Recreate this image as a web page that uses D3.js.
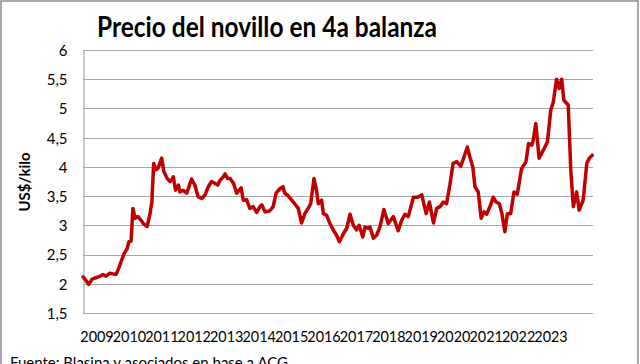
<!DOCTYPE html>
<html>
<head>
<meta charset="utf-8">
<script src="https://cdn.jsdelivr.net/npm/d3@7"></script>
<style>
  body { margin: 0; background: #fff; }
  text { font-family: Lato, "Open Sans", sans-serif; fill: #000; }
</style>
</head>
<body>
<svg id="chart" width="640" height="364"></svg>
<script>
// data (decimal year, US$/kilo)
const anios = [
  2009.00, 2009.08, 2009.16, 2009.25, 2009.38, 2009.47, 2009.55, 2009.63, 2009.74, 2009.82,
  2009.91, 2009.99, 2010.07, 2010.13, 2010.21, 2010.26, 2010.32, 2010.37, 2010.43, 2010.51,
  2010.59, 2010.67, 2010.76, 2010.84, 2010.89, 2010.94, 2011.00, 2011.06, 2011.16, 2011.22,
  2011.31, 2011.39, 2011.44, 2011.48, 2011.54, 2011.62, 2011.66, 2011.75, 2011.85, 2011.94,
  2011.98, 2012.07, 2012.16, 2012.26, 2012.35, 2012.44, 2012.53, 2012.62, 2012.70, 2012.76,
  2012.85, 2012.90, 2012.97, 2013.04, 2013.13, 2013.22, 2013.34, 2013.40, 2013.49, 2013.58,
  2013.67, 2013.77, 2013.86, 2013.91, 2014.00, 2014.13, 2014.22, 2014.30, 2014.41, 2014.49,
  2014.54, 2014.64, 2014.77, 2014.91, 2015.00, 2015.09, 2015.18, 2015.25, 2015.34, 2015.41,
  2015.46, 2015.55, 2015.60, 2015.69, 2015.78, 2015.87, 2015.96, 2016.04, 2016.15, 2016.24,
  2016.33, 2016.42, 2016.51, 2016.58, 2016.68, 2016.74, 2016.83, 2016.88, 2016.97, 2017.06,
  2017.15, 2017.26, 2017.38, 2017.52, 2017.65, 2017.75, 2017.84, 2017.93, 2018.07, 2018.18,
  2018.30, 2018.42, 2018.51, 2018.62, 2018.71, 2018.80, 2018.89, 2018.98, 2019.07, 2019.16,
  2019.26, 2019.37, 2019.46, 2019.55, 2019.62, 2019.70, 2019.76, 2019.85, 2019.93, 2020.01,
  2020.08, 2020.19, 2020.26, 2020.34, 2020.43, 2020.50, 2020.58, 2020.65, 2020.74, 2020.83,
  2020.92, 2021.04, 2021.16, 2021.23, 2021.32, 2021.36, 2021.43, 2021.52, 2021.64, 2021.75,
  2021.84, 2021.91, 2022.00, 2022.07, 2022.14, 2022.20, 2022.32, 2022.39, 2022.46, 2022.55,
  2022.62, 2022.73, 2022.83, 2022.90, 2022.98
];
const precios = [
  2.12, 2.06, 1.99, 2.08, 2.11, 2.13, 2.16, 2.13, 2.18, 2.17,
  2.16, 2.28, 2.42, 2.52, 2.60, 2.72, 2.73, 3.29, 3.12, 3.15,
  3.09, 3.02, 2.98, 3.20, 3.40, 4.06, 3.95, 3.98, 4.15, 3.92,
  3.80, 3.75, 3.78, 3.83, 3.60, 3.69, 3.57, 3.60, 3.55, 3.72,
  3.79, 3.69, 3.49, 3.46, 3.52, 3.66, 3.75, 3.72, 3.69, 3.77,
  3.83, 3.88, 3.80, 3.80, 3.72, 3.55, 3.64, 3.43, 3.44, 3.29,
  3.32, 3.22, 3.32, 3.35, 3.23, 3.25, 3.32, 3.55, 3.63, 3.66,
  3.55, 3.50, 3.40, 3.29, 3.04, 3.20, 3.29, 3.37, 3.80, 3.60,
  3.37, 3.43, 3.20, 3.17, 3.03, 2.92, 2.83, 2.72, 2.86, 2.95,
  3.19, 3.00, 2.92, 3.00, 2.80, 2.97, 2.95, 2.97, 2.78, 2.83,
  2.97, 3.27, 3.03, 3.15, 2.91, 3.09, 3.19, 3.15, 3.48, 3.48,
  3.52, 3.20, 3.40, 3.04, 3.29, 3.32, 3.40, 3.37, 3.69, 4.06,
  4.09, 4.01, 4.17, 4.34, 4.17, 4.00, 3.66, 3.57, 3.12, 3.23,
  3.19, 3.35, 3.48, 3.40, 3.37, 3.20, 2.89, 3.20, 3.20, 3.57,
  3.53, 3.97, 4.09, 4.40, 4.37, 4.46, 4.74, 4.15, 4.29, 4.43,
  4.97, 5.11, 5.50, 5.34, 5.50, 5.14, 5.06, 3.95, 3.32, 3.57,
  3.26, 3.43, 4.06, 4.15, 4.20
];
const etiquetasX = ["2009", "2010", "2011", "2012", "2013", "2014", "2015", "2016",
  "2017", "2018", "2019", "2020", "2021", "2022", "2023"];
const ticksY = [1.5, 2, 2.5, 3, 3.5, 4, 4.5, 5, 5.5, 6];

const titulo = "Precio del novillo en 4a balanza";
const tituloY = "US$/kilo";
const fuente = "Fuente: Blasina y asociados en base a ACG";

const svg = d3.select("#chart");
const plot = { left: 83, right: 593, top: 50, bottom: 313 };

// outer frame
svg.append("rect")
  .attr("x", 1).attr("y", 1)
  .attr("width", 637).attr("height", 380)
  .attr("fill", "#fff")
  .attr("stroke", "#8c8c8c")
  .attr("stroke-width", 1.5);

// scales
const x = d3.scaleLinear().domain([2009, 2023]).range([plot.left, plot.right]);
const y = d3.scaleLinear().domain([1.5, 6]).range([plot.bottom, plot.top]);
// the category labels in the original are packed side by side
const xLab = d3.scalePoint().domain(etiquetasX).range([97, 551]);

// grid lines
svg.append("g")
  .attr("class", "grid")
  .selectAll("line")
  .data(ticksY)
  .enter()
  .append("line")
  .attr("x1", plot.left)
  .attr("x2", plot.right)
  .attr("y1", function (d) { return Math.round(y(d)) + 0.5; })
  .attr("y2", function (d) { return Math.round(y(d)) + 0.5; })
  .attr("stroke", "#a6a6a6")
  .attr("stroke-width", 1.2);

// y axis
const yAxis = svg.append("g")
  .attr("class", "y_axis")
  .attr("transform", "translate(" + (plot.left + 0.5) + ",0)")
  .call(d3.axisLeft(y).tickValues(ticksY).tickSize(0).tickPadding(16)
    .tickFormat(function (d) { return String(d).replace(".", ","); }));
yAxis.select(".domain").attr("stroke", "#a6a6a6").attr("stroke-width", 1.2);
yAxis.selectAll("text")
  .style("font-size", "15px")
  .attr("dy", "0.36em");

// y axis title
svg.append("text")
  .attr("transform", "translate(30,182) rotate(-90)")
  .attr("text-anchor", "middle")
  .style("font-size", "15px")
  .style("font-weight", "bold")
  .text(tituloY);

// x labels
svg.append("g")
  .attr("class", "x_labels")
  .selectAll("text")
  .data(etiquetasX)
  .enter()
  .append("text")
  .attr("x", function (d) { return xLab(d); })
  .attr("y", 342)
  .attr("text-anchor", "middle")
  .style("font-size", "14.4px")
  .text(function (d) { return d; });

// price line
const serie = anios.map(function (a, i) { return { anio: a, precio: precios[i] }; });
const line = d3.line()
  .x(function (d) { return x(d.anio); })
  .y(function (d) { return y(d.precio); });

svg.append("path")
  .datum(serie)
  .attr("d", line)
  .attr("fill", "none")
  .attr("stroke", "#c00000")
  .attr("stroke-width", 3.5)
  .attr("stroke-linejoin", "round")
  .attr("stroke-linecap", "round");

// title (narrow bold face in the original, so squeeze it)
svg.append("text")
  .attr("x", 97)
  .attr("y", 37)
  .attr("textLength", 340)
  .attr("lengthAdjust", "spacingAndGlyphs")
  .style("font-size", "28px")
  .style("font-weight", "bold")
  .text(titulo);

// source note (cut off by the bottom edge, as in the original)
svg.append("text")
  .attr("x", 10)
  .attr("y", 368)
  .style("font-size", "15px")
  .text(fuente);
</script>
</body>
</html>
